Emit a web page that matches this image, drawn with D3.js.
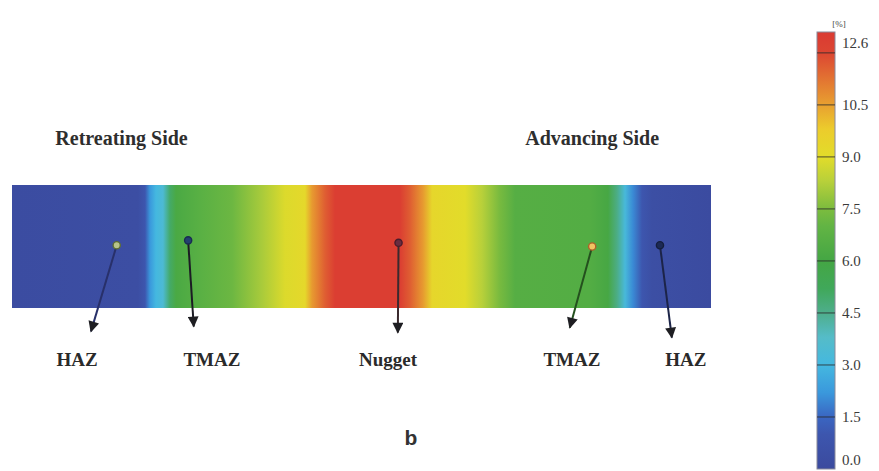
<!DOCTYPE html>
<html>
<head>
<meta charset="utf-8">
<script src="https://cdn.jsdelivr.net/npm/d3@7"></script>
<style>
  html, body { margin: 0; padding: 0; background: #fff; }
  svg { display: block; }
</style>
</head>
<body>
<svg id="chart" width="879" height="471"></svg>
<script>
// Equivalent plastic strain [%] across the weld cross-section (position in % of section width)
const profilePos = [0, 18.03, 19.03, 19.74, 20.6, 21.6, 22.6, 23.46, 26.9, 31.47, 35.77, 39.06, 41.92, 42.92, 44.78, 46.21, 55.51, 56.94, 58.8, 60.09, 64.81, 67.24, 69.81, 71.96, 82.69, 85.26, 86.55, 87.7, 88.84, 90.13, 91.56, 100];
const profileStrain = [0.2, 0.3, 1.0, 2.2, 3.0, 3.4, 5.0, 6.2, 6.7, 7.2, 8.1, 8.9, 9.2, 10.6, 11.6, 12.4, 12.4, 11.6, 10.6, 9.3, 9.0, 8.3, 7.4, 6.6, 6.5, 6.1, 4.6, 3.2, 2.0, 1.0, 0.4, 0.1];

// Colour map of the strain contour
const cmapValues = [0, 1.0, 1.5, 2.2, 3.0, 3.8, 4.5, 5.2, 6.0, 7.0, 7.5, 8.3, 9.0, 9.8, 10.5, 11.3, 12.0, 12.6];
const cmapColors = ["#3b4a9e", "#3d56ae", "#3a66c2", "#3a98dc", "#44b8e0", "#55bcc8", "#4eae8c", "#40a85a", "#44a644", "#62b444", "#7cbc3e", "#b8d03a", "#e2dc2a", "#eccc2c", "#e8a030", "#e27032", "#dc4632", "#da3a32"];

// Legend ticks
const legendTicks = [0.0, 1.5, 3.0, 4.5, 6.0, 7.5, 9.0, 10.5, 12.6];
const legendBands = [1.5, 3.0, 4.5, 6.0, 7.5, 9.0, 10.5, 12.0];

// Measurement points: position across section [%], depth [fraction of thickness],
// arrow tip (position, depth) and label position
const zoneLabels = ["HAZ", "TMAZ", "Nugget", "TMAZ", "HAZ"];
const zonePointPos = [14.98, 25.2, 55.3, 83.0, 92.7];
const zonePointDepth = [0.49, 0.45, 0.47, 0.50, 0.49];
const zoneTipPos = [11.3, 26.0, 55.2, 79.8, 94.4];
const zoneTipDepth = [1.19, 1.15, 1.20, 1.16, 1.24];
const zoneLabelPos = [9.3, 28.6, 53.8, 80.1, 96.4];
const zonePointFill = ["#b8c48a", "#22406e", "#6a2c40", "#f2c462", "#1c2a55"];
const zonePointStroke = ["#5e6e34", "#1a2c52", "#4a1c2c", "#b0602a", "#141e3c"];
const zoneArrowColor = ["#28306a", "#1c1c24", "#3a2a2e", "#24501e", "#1c2448"];

const sideLabels = ["Retreating Side", "Advancing Side"];
const sideLabelPos = [6.2, 83.0];

const unitLabel = "[%]";
const panelLabel = "b";

const svg = d3.select("#chart");
const defs = svg.append("defs");

// Section geometry scales
const x = d3.scaleLinear().domain([0, 100]).range([12, 711]);
const y = d3.scaleLinear().domain([0, 1]).range([185, 308]);

const color = d3.scaleLinear().domain(cmapValues).range(cmapColors).interpolate(d3.interpolateRgb).clamp(true);

// Strain contour along the section
const grad = defs.append("linearGradient")
  .attr("id", "strainGrad")
  .attr("x1", "0%").attr("x2", "100%").attr("y1", "0%").attr("y2", "0%");
grad.selectAll("stop")
  .data(profilePos.map((p, i) => ({ p, v: profileStrain[i] })))
  .join("stop")
  .attr("offset", d => d.p + "%")
  .attr("stop-color", d => color(d.v));

svg.append("rect")
  .attr("x", x(0)).attr("y", y(0))
  .attr("width", x(100) - x(0)).attr("height", y(1) - y(0))
  .attr("fill", "url(#strainGrad)");

// Side labels
svg.selectAll("text.side")
  .data(sideLabels)
  .join("text")
  .attr("class", "side")
  .attr("x", (d, i) => x(sideLabelPos[i]))
  .attr("y", 145)
  .attr("text-anchor", (d, i) => i === 0 ? "start" : "middle")
  .attr("font-family", "Liberation Serif, Times New Roman, serif")
  .attr("font-weight", "bold")
  .attr("font-size", 20)
  .attr("fill", "#2e2e2e")
  .text(d => d);

// Arrowhead marker
defs.append("marker")
  .attr("id", "arrowHead")
  .attr("viewBox", "0 0 10 10")
  .attr("refX", 9).attr("refY", 5)
  .attr("markerWidth", 6).attr("markerHeight", 5.5)
  .attr("markerUnits", "strokeWidth")
  .attr("orient", "auto")
  .append("path")
  .attr("d", "M0,0 L10,5 L0,10 Z")
  .attr("fill", "#1e1e22");

const zones = zoneLabels.map((label, i) => ({
  label,
  px: x(zonePointPos[i]), py: y(zonePointDepth[i]),
  tx: x(zoneTipPos[i]), ty: y(zoneTipDepth[i]),
  lx: x(zoneLabelPos[i]),
  fill: zonePointFill[i], stroke: zonePointStroke[i], arrow: zoneArrowColor[i]
}));

svg.selectAll("line.arrow")
  .data(zones)
  .join("line")
  .attr("class", "arrow")
  .attr("x1", d => d.px).attr("y1", d => d.py)
  .attr("x2", d => d.tx).attr("y2", d => d.ty)
  .attr("stroke", d => d.arrow)
  .attr("stroke-width", 2)
  .attr("marker-end", "url(#arrowHead)");

svg.selectAll("circle.pt")
  .data(zones)
  .join("circle")
  .attr("class", "pt")
  .attr("cx", d => d.px).attr("cy", d => d.py)
  .attr("r", 3.6)
  .attr("fill", d => d.fill)
  .attr("stroke", d => d.stroke)
  .attr("stroke-width", 1.4);

svg.selectAll("text.zone")
  .data(zones)
  .join("text")
  .attr("class", "zone")
  .attr("x", d => d.lx)
  .attr("y", 366)
  .attr("text-anchor", "middle")
  .attr("font-family", "Liberation Serif, Times New Roman, serif")
  .attr("font-weight", "bold")
  .attr("font-size", 19)
  .attr("fill", "#2a2a2a")
  .text(d => d.label);

// Panel label
svg.append("text")
  .attr("x", 411).attr("y", 445)
  .attr("text-anchor", "middle")
  .attr("font-family", "Liberation Sans, Arial, sans-serif")
  .attr("font-weight", "bold")
  .attr("font-size", 21)
  .attr("fill", "#333")
  .text(panelLabel);

// Colour legend
const ly = d3.scaleLinear().domain([0, 12.6]).range([469, 32]);
const lx0 = 817, lw = 18;

const lgrad = defs.append("linearGradient")
  .attr("id", "legendGrad")
  .attr("x1", "0%").attr("x2", "0%").attr("y1", "100%").attr("y2", "0%");
lgrad.selectAll("stop")
  .data(cmapValues.map((v, i) => ({ v, c: cmapColors[i] })))
  .join("stop")
  .attr("offset", d => (d.v / 12.6 * 100) + "%")
  .attr("stop-color", d => d.c);

svg.append("rect")
  .attr("x", lx0).attr("y", ly(12.6))
  .attr("width", lw).attr("height", ly(0) - ly(12.6))
  .attr("fill", "url(#legendGrad)")
  .attr("stroke", "#8a8a9a")
  .attr("stroke-width", 1);

svg.selectAll("line.band")
  .data(legendBands)
  .join("line")
  .attr("class", "band")
  .attr("x1", lx0).attr("x2", lx0 + lw)
  .attr("y1", d => ly(d)).attr("y2", d => ly(d))
  .attr("stroke", "#2a2a2a")
  .attr("stroke-opacity", 0.55)
  .attr("stroke-width", 1.5);

svg.selectAll("text.tick")
  .data(legendTicks)
  .join("text")
  .attr("class", "tick")
  .attr("x", 842)
  .attr("y", d => d === 12.6 ? ly(d) + 11 : (d === 0 ? ly(d) - 9 : ly(d)))
  .attr("dy", "0.35em")
  .attr("font-family", "Liberation Serif, Times New Roman, serif")
  .attr("font-size", 15)
  .attr("fill", "#3a3a3a")
  .text(d => d3.format(".1f")(d));

svg.append("text")
  .attr("x", 839).attr("y", 27)
  .attr("text-anchor", "middle")
  .attr("font-family", "Liberation Serif, Times New Roman, serif")
  .attr("font-size", 9)
  .attr("fill", "#444")
  .text(unitLabel);
</script>
</body>
</html>
